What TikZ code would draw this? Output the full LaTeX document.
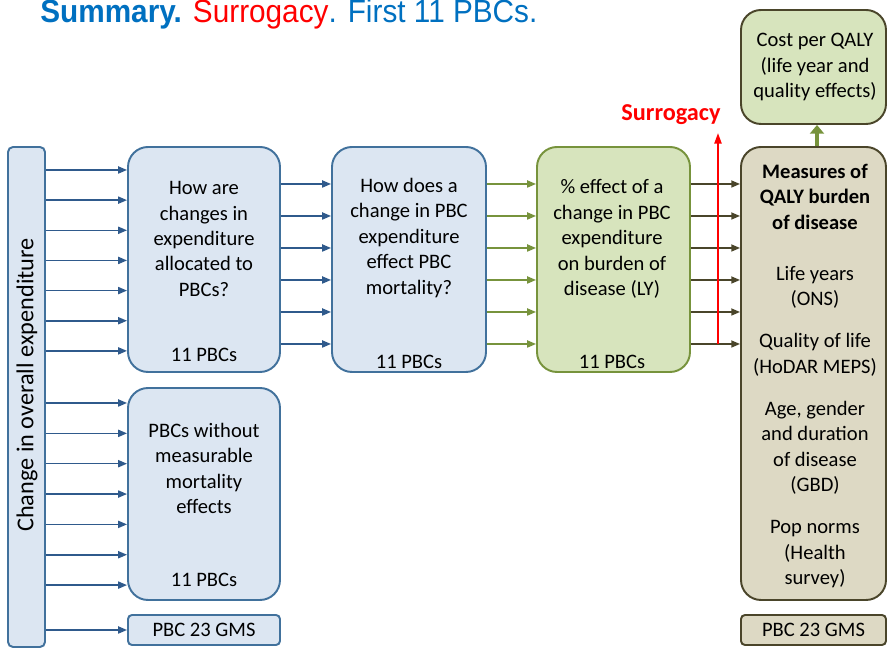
\documentclass[tikz,border=0pt]{standalone}
\usepackage{fontspec}
\setmainfont{Carlito}
\newfontfamily\titlefont[FakeStretch=0.93]{Liberation Sans}
\usepackage{xcolor}
\usepackage{tikz}
\usetikzlibrary{arrows.meta,positioning}

\definecolor{titleblue}{HTML}{0070C0}
\definecolor{boxblue}{HTML}{DCE6F2}
\definecolor{edgeblue}{HTML}{41719C}
\definecolor{arrblue}{HTML}{2F5A8C}
\definecolor{boxgreen}{HTML}{D7E4BD}
\definecolor{edgegreen}{HTML}{77933C}
\definecolor{boxtan}{HTML}{DDD9C4}
\definecolor{edgeolive}{HTML}{4A452A}

\begin{document}
\begin{tikzpicture}[
  every node/.style={font=\fontsize{11.7}{14.5}\selectfont, inner sep=0pt, align=center},
  panel/.style={draw, line width=1.1pt, rounded corners=0.4cm},
  bluepanel/.style={panel, draw=edgeblue, fill=boxblue},
  greenpanel/.style={panel, draw=edgegreen, fill=boxgreen},
  tanpanel/.style={panel, draw=edgeolive, fill=boxtan},
  tag/.style={draw, line width=1.1pt, rounded corners=0.08cm, minimum width=3.04cm, minimum height=0.6cm},
  feed/.style={line width=0.9pt, -{Triangle[length=5pt,width=4pt]}},
]
\useasboundingbox (0,0) rectangle (17.74,-13);

% Title
\node[anchor=base west, font=\titlefont\fontsize{18.2}{21}\selectfont, text=titleblue] (title) at (0.80,-0.446)
  {\textbf{Summary.} \textcolor{red}{Surrogacy}. First 11 PBCs.};

% Overall expenditure bar
\node[draw=edgeblue, fill=boxblue, line width=1.1pt, rounded corners=0.1cm,
  minimum width=0.74cm, minimum height=10cm] (bar) at (0.53,-7.94) {};
\node[rotate=90, font=\fontsize{13.8}{16}\selectfont] (barlabel) at (0.54,-7.7) {Change in overall expenditure};

% Allocation to PBCs
\node[bluepanel, minimum width=3.04cm, minimum height=4.5cm] (alloc) at (4.08,-5.19) {};
\node (alloctext) at (4.08,-4.78) {How are\\changes in\\expenditure\\allocated to\\PBCs?};
\node (allocn) at (4.08,-7.1) {11 PBCs};

% Mortality effect
\node[bluepanel, minimum width=3.08cm, minimum height=4.5cm] (mort) at (8.18,-5.19) {};
\node (morttext) at (8.18,-4.76) {How does a\\change in PBC\\expenditure\\effect PBC\\mortality?};
\node (mortn) at (8.18,-7.24) {11 PBCs};

% Burden of disease
\node[greenpanel, minimum width=3.06cm, minimum height=4.5cm] (burden) at (12.27,-5.19) {};
\node (burdentext) at (12.24,-4.78) {\% effect of a\\change in PBC\\expenditure\\on burden of\\disease (LY)};
\node (burdenn) at (12.24,-7.24) {11 PBCs};

% QALY measures
\node[tanpanel, minimum width=2.9cm, minimum height=9.06cm] (qaly) at (16.27,-7.47) {};
\node (qalytext) at (16.3,-7.52) {\textbf{Measures of}\\\textbf{QALY burden}\\\textbf{of disease}\\[14.5pt]
  Life years\\(ONS)\\[9.4pt]Quality of life\\(HoDAR MEPS)\\[9.4pt]
  Age, gender\\and duration\\of disease\\(GBD)\\[9.4pt]Pop norms\\(Health\\survey)};

% Cost per QALY
\node[panel, draw=edgeolive, fill=boxgreen, minimum width=2.9cm, minimum height=2.28cm] (cost) at (16.27,-1.34) {};
\node (costtext) at (16.3,-1.34) {Cost per QALY\\(life year and\\quality effects)};

% No mortality effect
\node[bluepanel, minimum width=3.04cm, minimum height=4.24cm] (nomort) at (4.08,-9.88) {};
\node (nomorttext) at (4.08,-9.37) {PBCs without\\measurable\\mortality\\effects};
\node (nomortn) at (4.08,-11.6) {11 PBCs};

% GMS tags
\node[tag, draw=edgeblue, fill=boxblue] (gmsleft) at (4.08,-12.6) {PBC 23 GMS};
\node[tag, draw=edgeolive, fill=boxtan, minimum width=2.9cm] (gmsright) at (16.27,-12.6) {PBC 23 GMS};

% Arrows from the bar
\foreach \k [evaluate=\k as \y using -3.4-0.603*\k] in {0,...,6}
  \draw[feed, arrblue] (bar.east |- 0,\y) -- (alloc.west |- 0,\y);
\foreach \k [evaluate=\k as \y using -8.06-0.607*\k] in {0,...,6}
  \draw[feed, arrblue] (bar.east |- 0,\y) -- (nomort.west |- 0,\y);
\draw[feed, arrblue] (bar.east |- gmsleft) -- (gmsleft.west);

% Arrows between stages
\foreach \k [evaluate=\k as \y using -3.68-0.64*\k] in {0,...,5} {
  \draw[feed, arrblue] (alloc.east |- 0,\y) -- (mort.west |- 0,\y);
  \draw[feed, edgegreen] (mort.east |- 0,\y) -- (burden.west |- 0,\y);
  \draw[feed, edgeolive] (burden.east |- 0,\y) -- (qaly.west |- 0,\y);
}

% Surrogacy
\coordinate (sgbot) at (14.36,-6.88);
\coordinate (sgtop) at (14.36,-2.66);
\draw[red, line width=1.1pt, -{Triangle[length=6pt,width=4pt]}] (sgbot) -- (sgtop);
\node[text=red, font=\bfseries\fontsize{13.8}{16}\selectfont] (sglabel) at (13.42,-2.3) {Surrogacy};

% QALY to cost
\draw[edgegreen, line width=2.2pt, -{Triangle[length=5pt,width=8pt]}] (qaly.north -| 16.34,0) -- (cost.south -| 16.34,0);

\end{tikzpicture}
\end{document}
